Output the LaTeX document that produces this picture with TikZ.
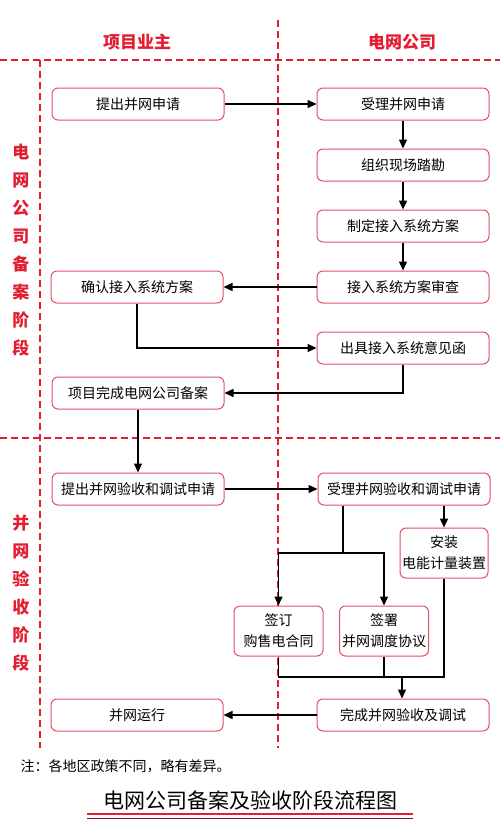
\documentclass[tikz,border=0pt]{standalone}
\usepackage{fontspec}
\setmainfont{Noto Sans CJK SC}
\usetikzlibrary{positioning, arrows.meta}
\definecolor{gridred}{RGB}{228, 30, 50}
\definecolor{boxred}{RGB}{226, 80, 100}
\definecolor{darkred}{RGB}{140, 20, 30}

\begin{document}
\begin{tikzpicture}[
    x=1pt, y=-1pt,
    font=\fontsize{14}{16}\selectfont,
    >={Triangle[length=9pt, width=8pt]},
    box/.style={rectangle, rounded corners=6pt, draw=boxred, line width=1pt, fill=white, minimum width=172pt, minimum height=32pt, inner sep=2pt, align=center},
    smallbox/.style={box, minimum width=89pt, minimum height=50pt, font=\fontsize{14}{21}\selectfont},
    arrow/.style={->, line width=1.4pt, draw=black},
    link/.style={line width=1.4pt, draw=black},
    divider/.style={draw=gridred, line width=1.3pt, dash pattern=on 7pt off 4pt},
    lane/.style={text=gridred, font=\fontsize{17}{28}\selectfont\bfseries, align=center}
  ]
  \useasboundingbox[fill=white] (0,0) rectangle (500,822);

  % Lanes
  \draw[divider] (0,60) -- (500,60);
  \draw[divider] (0,438) -- (500,438);
  \draw[divider] (278,20) -- (278,748);
  \draw[divider] (40,60) -- (40,748);
  \node[lane] (owner) at (137,42) {项目业主};
  \node[lane] (grid) at (402,42) {电网公司};
  \node[lane] (stage1) at (21,250) {电\\网\\公\\司\\备\\案\\阶\\段};
  \node[lane] (stage2) at (21,593) {并\\网\\验\\收\\阶\\段};

  % Nodes
  \node[box] (apply) at (138,104) {提出并网申请};
  \node[box] (accept) at (403,104) {受理并网申请};
  \node[box, below=28pt of accept] (survey) {组织现场踏勘};
  \node[box, below=28pt of survey] (scheme) {制定接入系统方案};
  \node[box, below=28pt of scheme] (review) {接入系统方案审查};
  \node[box, below=28pt of review] (opinion) {出具接入系统意见函};
  \node[box, left=93pt of review] (confirm) {确认接入系统方案};
  \node[box] (filing) at (138,393) {项目完成电网公司备案};
  \node[box] (apply2) at (138,489) {提出并网验收和调试申请};
  \node[box, right=93pt of apply2] (accept2) {受理并网验收和调试申请};
  \node[smallbox, minimum width=88pt] (meter) at (444,553) {安装\\电能计量装置};
  \node[smallbox] (contract) at (278.5,631) {签订\\购售电合同};
  \node[smallbox] (dispatch) at (384,631) {签署\\并网调度协议};
  \node[box] (finish) at (403,715) {完成并网验收及调试};
  \node[box, left=93pt of finish] (run) {并网运行};
  \coordinate (split) at (343,553);
  \coordinate (merge) at (402,677);

  % Arrows
  \draw[arrow] (apply) -- (accept);
  \draw[arrow] (accept) -- (survey);
  \draw[arrow] (survey) -- (scheme);
  \draw[arrow] (scheme) -- (review);
  \draw[arrow] (review) -- (confirm);
  \draw[arrow] (confirm.south) |- (opinion.west);
  \draw[arrow] (opinion.south) |- (filing.east);
  \draw[arrow] (filing) -- (apply2);
  \draw[arrow] (apply2) -- (accept2);
  \draw[arrow] (accept2.south -| meter.north) -- (meter.north);
  \draw[link] (accept2.south -| split) -- (split);
  \draw[arrow] (split) -| (contract.north);
  \draw[arrow] (split) -| (dispatch.north);
  \draw[link] (contract.south) |- (merge);
  \draw[link] (dispatch.south) |- (merge);
  \draw[link] (meter.south) |- (merge);
  \draw[arrow] (merge) -- (finish.north -| merge);
  \draw[arrow] (finish) -- (run);

  % Note and title
  \node[anchor=west] (note) at (17,766) {注：各地区政策不同，略有差异。};
  \node[font=\fontsize{21}{24}\selectfont] (title) at (250,800) {电网公司备案及验收阶段流程图};
  \draw[gridred, line width=1.6pt] (87,814) -- (413,814);
  \draw[darkred, line width=0.8pt] (87,818) -- (413,818);

\end{tikzpicture}
\end{document}
